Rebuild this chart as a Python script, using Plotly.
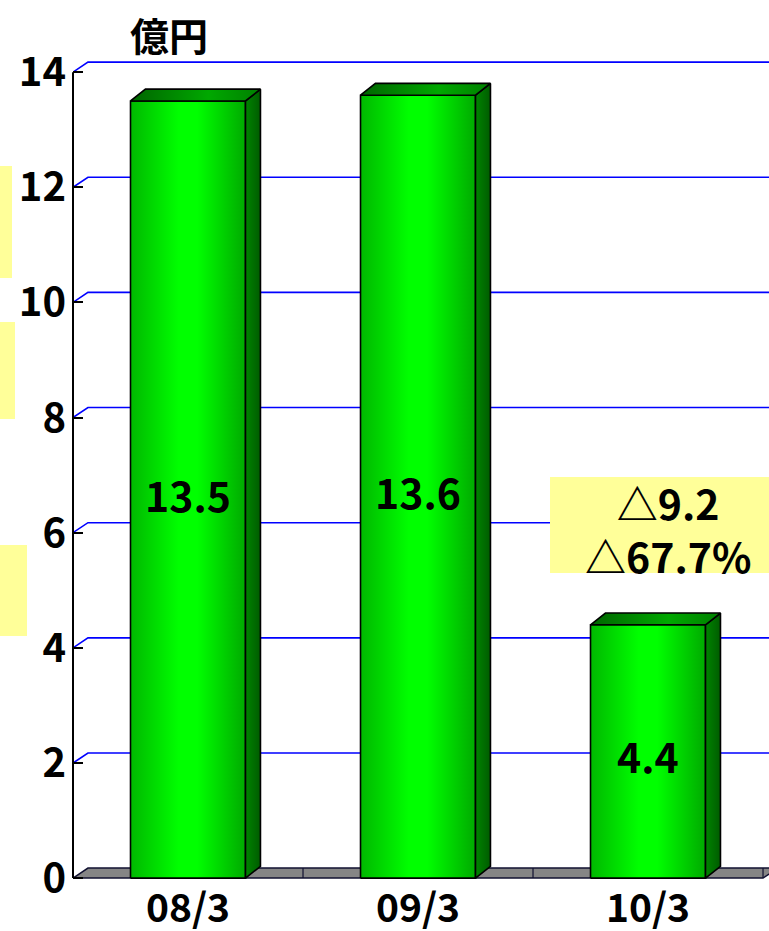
import plotly.graph_objects as go

# ---------------- data ----------------
categories = ["08/3", "09/3", "10/3"]
values = [13.5, 13.6, 4.4]
value_labels = ["13.5", "13.6", "4.4"]
y_ticks = [0, 2, 4, 6, 8, 10, 12, 14]
unit_label = "億円"
change_labels = ["△9.2", "△67.7%"]

# ---------------- layout constants ----------------
W, H = 769, 931
L, R, T, B = 73, 0, 52, 50
XR = [-0.5, 2.526]
YR = [-0.05, 14.35]
DX = 0.065          # depth offset in x (category units)
DYF = 0.174         # depth offset in y for floor / gridlines
DYB = 0.205         # depth offset in y for bars
HALF = 0.25         # half bar width
FONT = "Noto Sans CJK JP"
YELLOW = "#FFFF99"


def px(x):
    return (x - L) / (W - L - R)


def py(y):
    return (H - B - y) / (H - T - B)


fig = go.Figure()

# gridlines with 3D back offset
for v in y_ticks[1:]:
    fig.add_trace(go.Scatter(
        x=[XR[0], XR[0] + DX, XR[1] + 0.2], y=[v, v + DYF, v + DYF],
        mode="lines", line=dict(color="#0000FF", width=1.6),
        hoverinfo="skip", showlegend=False))

# floor
n = len(categories)
fx0, fx1 = -0.5, n - 0.5
fig.add_trace(go.Scatter(
    x=[fx0, fx1, fx1 + DX, fx0 + DX, fx0],
    y=[0, 0, DYF, DYF, 0],
    mode="lines", fill="toself", fillcolor="#858585",
    line=dict(color="#101030", width=1.5),
    hoverinfo="skip", showlegend=False))
sx, sy = [], []
for k in range(n):
    xb = k + 0.5
    sx += [xb, xb, None]
    sy += [0, DYF, None]
fig.add_trace(go.Scatter(x=sx, y=sy, mode="lines",
                         line=dict(color="#101030", width=1.2),
                         hoverinfo="skip", showlegend=False))

front_cs = [[0, "#00B800"], [0.42, "#00FF00"], [0.58, "#00FF00"], [1, "#00AA00"]]
side_cs = [[0, "#008400"], [1, "#005C00"]]
top_cs = [[0, "#006400"], [0.6, "#00A800"], [1, "#008000"]]

for i, v in enumerate(values):
    xl, xr = i - HALF, i + HALF
    # front face
    fig.add_trace(go.Scatter(
        x=[xl, xr, xr, xl, xl], y=[0, 0, v, v, 0],
        mode="lines", fill="toself",
        fillgradient=dict(type="horizontal", colorscale=front_cs),
        line=dict(color="black", width=1.6),
        hoverinfo="skip", showlegend=False))
    # side face
    fig.add_trace(go.Scatter(
        x=[xr, xr + DX, xr + DX, xr, xr], y=[0, DYB, v + DYB, v, 0],
        mode="lines", fill="toself",
        fillgradient=dict(type="horizontal", colorscale=side_cs),
        line=dict(color="black", width=1.6),
        hoverinfo="skip", showlegend=False))
    # top face
    fig.add_trace(go.Scatter(
        x=[xl, xr, xr + DX, xl + DX, xl], y=[v, v, v + DYB, v + DYB, v],
        mode="lines", fill="toself",
        fillgradient=dict(type="horizontal", colorscale=top_cs),
        line=dict(color="black", width=1.6),
        hoverinfo="skip", showlegend=False))

shapes = []
# y axis line (0..14)
shapes.append(dict(type="line", xref="paper", yref="y", x0=0, x1=0,
                   y0=0, y1=y_ticks[-1], line=dict(color="black", width=2)))
# yellow boxes at the left edge (partial)
for (x1, y0, y1) in [(12, 166, 278), (15, 322, 419), (27, 545, 636)]:
    shapes.append(dict(type="rect", xref="paper", yref="paper",
                       x0=px(-5), x1=px(x1), y0=py(y1), y1=py(y0),
                       fillcolor=YELLOW, line=dict(width=0), layer="above"))
# change box
shapes.append(dict(type="rect", xref="paper", yref="paper",
                   x0=px(550), x1=px(790), y0=py(573), y1=py(477),
                   fillcolor=YELLOW, line=dict(width=0), layer="above"))

annotations = [
    dict(text=unit_label, xref="paper", yref="paper", x=px(169), y=py(34),
         showarrow=False, font=dict(family=FONT, size=39, color="black", weight=700),
         xanchor="center", yanchor="middle"),
    dict(text="<br>".join(change_labels), xref="paper", yref="paper",
         x=px(668), y=py(528), align="center",
         showarrow=False, font=dict(family=FONT, size=41, color="black", weight=700),
         xanchor="center", yanchor="middle"),
]
# value labels at the middle of each bar
for i, (v, t) in enumerate(zip(values, value_labels)):
    annotations.append(dict(text=t, xref="x", yref="y", x=i, y=v / 2, yshift=-4,
                            showarrow=False,
                            font=dict(family=FONT, size=41, color="black", weight=700),
                            xanchor="center", yanchor="middle"))

fig.update_layout(
    width=W, height=H,
    margin=dict(l=L, r=R, t=T, b=B, pad=0, autoexpand=False),
    paper_bgcolor="white", plot_bgcolor="white",
    shapes=shapes, annotations=annotations,
    xaxis=dict(range=XR, tickvals=list(range(n)), ticktext=categories,
               showgrid=False, zeroline=False, showline=False, ticks="",
               automargin=False, ticklabelstandoff=1,
               tickfont=dict(family=FONT, size=39, color="black", weight=700),
               fixedrange=True),
    yaxis=dict(range=YR, tickvals=y_ticks, ticktext=[str(t) for t in y_ticks],
               showgrid=False, zeroline=False, showline=False,
               ticks="inside", ticklen=10, tickwidth=2, tickcolor="black",
               automargin=False, ticklabelstandoff=6,
               tickfont=dict(family=FONT, size=40, color="black", weight=700),
               fixedrange=True),
)

fig.write_html(
    "out.html",
    config={"displayModeBar": False},
    post_script="document.body.style.margin='0';document.body.style.overflow='hidden';",
)
